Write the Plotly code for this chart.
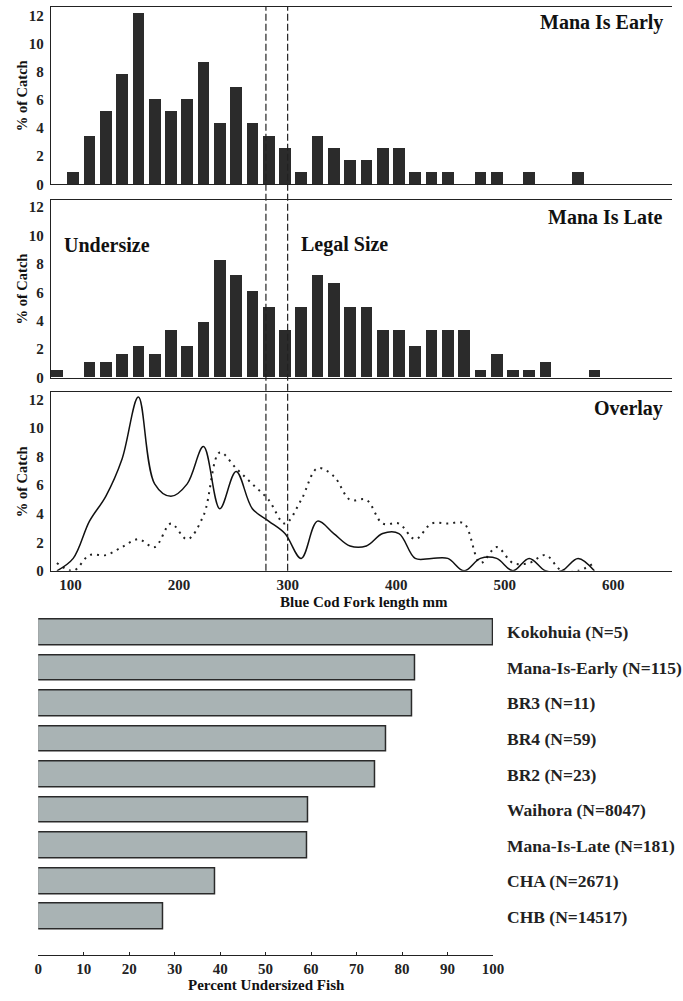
import plotly.graph_objects as go

# ---------------- data ----------------
bin_centers_mm = [87.5, 102.5, 117.5, 132.5, 147.5, 162.5, 177.5, 192.5, 207.5, 222.5,
                  237.5, 252.5, 267.5, 282.5, 297.5, 312.5, 327.5, 342.5, 357.5, 372.5,
                  387.5, 402.5, 417.5, 432.5, 447.5, 462.5, 477.5, 492.5, 507.5, 522.5,
                  537.5, 552.5, 567.5, 582.5]
early_pct = [0, 0.87, 3.48, 5.22, 7.83, 12.17, 6.09, 5.22, 6.09, 8.70,
             4.35, 6.96, 4.35, 3.48, 2.61, 0.87, 3.48, 2.61, 1.74, 1.74,
             2.61, 2.61, 0.87, 0.87, 0.87, 0, 0.87, 0.87, 0, 0.87,
             0, 0, 0.87, 0]
late_pct = [0.55, 0, 1.10, 1.10, 1.66, 2.21, 1.66, 3.31, 2.21, 3.87,
            8.29, 7.18, 6.08, 4.97, 3.31, 4.97, 7.18, 6.63, 4.97, 4.97,
            3.31, 3.31, 2.21, 3.31, 3.31, 3.31, 0.55, 1.66, 0.55, 0.55,
            1.10, 0, 0, 0.55]
legal_limits_mm = [280, 300]
length_ticks = [100, 200, 300, 400, 500, 600]
catch_ticks = [0, 2, 4, 6, 8, 10, 12]

sites = ["Kokohuia (N=5)", "Mana-Is-Early (N=115)", "BR3 (N=11)", "BR4 (N=59)",
         "BR2 (N=23)", "Waihora (N=8047)", "Mana-Is-Late (N=181)", "CHA (N=2671)",
         "CHB (N=14517)"]
undersized_pct = [100, 82.9, 82.2, 76.6, 74.1, 59.4, 59.2, 39.0, 27.4]
pct_ticks = [0, 10, 20, 30, 40, 50, 60, 70, 80, 90, 100]

# ---------------- layout helpers ----------------
W, H = 683, 1001
def fx(p):
    return p / W
def fy(p):
    return 1 - p / H

SERIF = "Liberation Serif"
INK = "#222222"
tickfont = dict(family=SERIF, size=15, color=INK, weight="bold")

fig = go.Figure()

# histograms
fig.add_trace(go.Bar(x=bin_centers_mm, y=early_pct, width=10.8, marker=dict(color="#2b2b2b", line=dict(width=0)),
                     xaxis="x", yaxis="y", showlegend=False))
fig.add_trace(go.Bar(x=bin_centers_mm, y=late_pct, width=10.8, marker=dict(color="#2b2b2b", line=dict(width=0)),
                     xaxis="x2", yaxis="y2", showlegend=False))
# overlay
fig.add_trace(go.Scatter(x=bin_centers_mm, y=late_pct, mode="lines",
                         line=dict(shape="spline", smoothing=1, color=INK, width=2, dash="2px,5px"),
                         xaxis="x3", yaxis="y3", showlegend=False))
fig.add_trace(go.Scatter(x=bin_centers_mm, y=early_pct, mode="lines",
                         line=dict(shape="spline", smoothing=1, color="#111111", width=1.5),
                         xaxis="x3", yaxis="y3", showlegend=False))
# percent undersized
fig.add_trace(go.Bar(x=undersized_pct, y=sites, orientation="h", width=0.72,
                     marker=dict(color="#a9b3b4", line=dict(color="#2a2a2a", width=1.5)),
                     xaxis="x4", yaxis="y4", showlegend=False))

xdom = [fx(48), 1]
xrange_mm = [82, 654]
panels_y = [(6, 185, 12.63), (201, 380, 12.49), (395, 575, 12.49)]

common_x = dict(range=xrange_mm, showgrid=False, zeroline=False, showline=True, linecolor=INK,
                linewidth=1.3, mirror=True, domain=xdom, tickfont=tickfont)
common_y = dict(showgrid=False, zeroline=False, showline=True, linecolor=INK, linewidth=1.3,
                tickvals=catch_ticks, tickfont=tickfont, ticks="outside", ticklen=3,
                tickcolor="rgba(0,0,0,0)")

fig.update_layout(
    xaxis=dict(common_x, anchor="y", showticklabels=False, ticks=""),
    yaxis=dict(common_y, anchor="x", domain=[fy(panels_y[0][1]), fy(panels_y[0][0])], range=[0, panels_y[0][2]]),
    xaxis2=dict(common_x, anchor="y2", showticklabels=False, ticks=""),
    yaxis2=dict(common_y, anchor="x2", domain=[fy(panels_y[1][1]), fy(panels_y[1][0])], range=[0, panels_y[1][2]]),
    xaxis3=dict(common_x, anchor="y3", tickvals=length_ticks, ticks=""),
    yaxis3=dict(common_y, anchor="x3", domain=[fy(panels_y[2][1]), fy(panels_y[2][0])], range=[0, panels_y[2][2]]),
    xaxis4=dict(anchor="y4", domain=[fx(35), fx(500)], range=[0, 100], tickvals=pct_ticks,
                showgrid=False, zeroline=False, showline=True, linecolor=INK, linewidth=1.3,
                ticks="inside", ticklen=3, tickcolor=INK, tickfont=tickfont),
    yaxis4=dict(anchor="x4", domain=[fy(963), fy(619)], side="right", type="category",
                categoryorder="array", categoryarray=sites, range=[9.086, -0.5],
                showgrid=False, zeroline=False, showline=False, ticks="",
                ticklabelstandoff=13,
                tickfont=dict(family=SERIF, size=17.5, color=INK, weight="bold")),
    width=W, height=H, margin=dict(l=0, r=0, t=0, b=0),
    paper_bgcolor="white", plot_bgcolor="white", bargap=0,
)

# legal-size limits (dashed verticals spanning the three upper panels)
for lim in legal_limits_mm:
    fig.add_shape(type="line", xref="x3", yref="paper", x0=lim, x1=lim, y0=fy(575), y1=fy(6),
                  line=dict(color=INK, width=1.2, dash="7px,3px"))

ann_font = dict(family=SERIF, size=20, color="#111111", weight="bold")
lab_font = dict(family=SERIF, size=15, color="#111111", weight="bold")
annotations = [
    dict(text="Mana Is Early", x=fx(676), y=fy(22), xanchor="right", yanchor="middle", font=ann_font),
    dict(text="Mana Is Late", x=fx(676), y=fy(218), xanchor="right", yanchor="middle", font=ann_font),
    dict(text="Overlay", x=fx(676), y=fy(411), xanchor="right", yanchor="middle", font=ann_font),
    dict(text="Undersize", x=fx(59), y=fy(246), xanchor="left", yanchor="middle", font=ann_font),
    dict(text="Legal Size", x=fx(302), y=fy(246), xanchor="left", yanchor="middle", font=ann_font),
    dict(text="Blue Cod Fork length mm", x=fx(368), y=fy(606), xanchor="center", yanchor="middle", font=lab_font),
    dict(text="Percent Undersized Fish", x=fx(268), y=fy(993), xanchor="center", yanchor="middle", font=lab_font),
]
for yc in [(6 + 185) / 2, (201 + 380) / 2, (395 + 575) / 2]:
    annotations.append(dict(text="% of Catch", x=fx(18), y=fy(yc), xanchor="center", yanchor="middle",
                            textangle=-90, font=dict(family=SERIF, size=14.5, color="#111111", weight="bold")))
for a in annotations:
    a.update(xref="paper", yref="paper", showarrow=False)
fig.update_layout(annotations=annotations)

fig.write_html("out.html", config={"displayModeBar": False},
               post_script="document.body.style.margin='0px';")
